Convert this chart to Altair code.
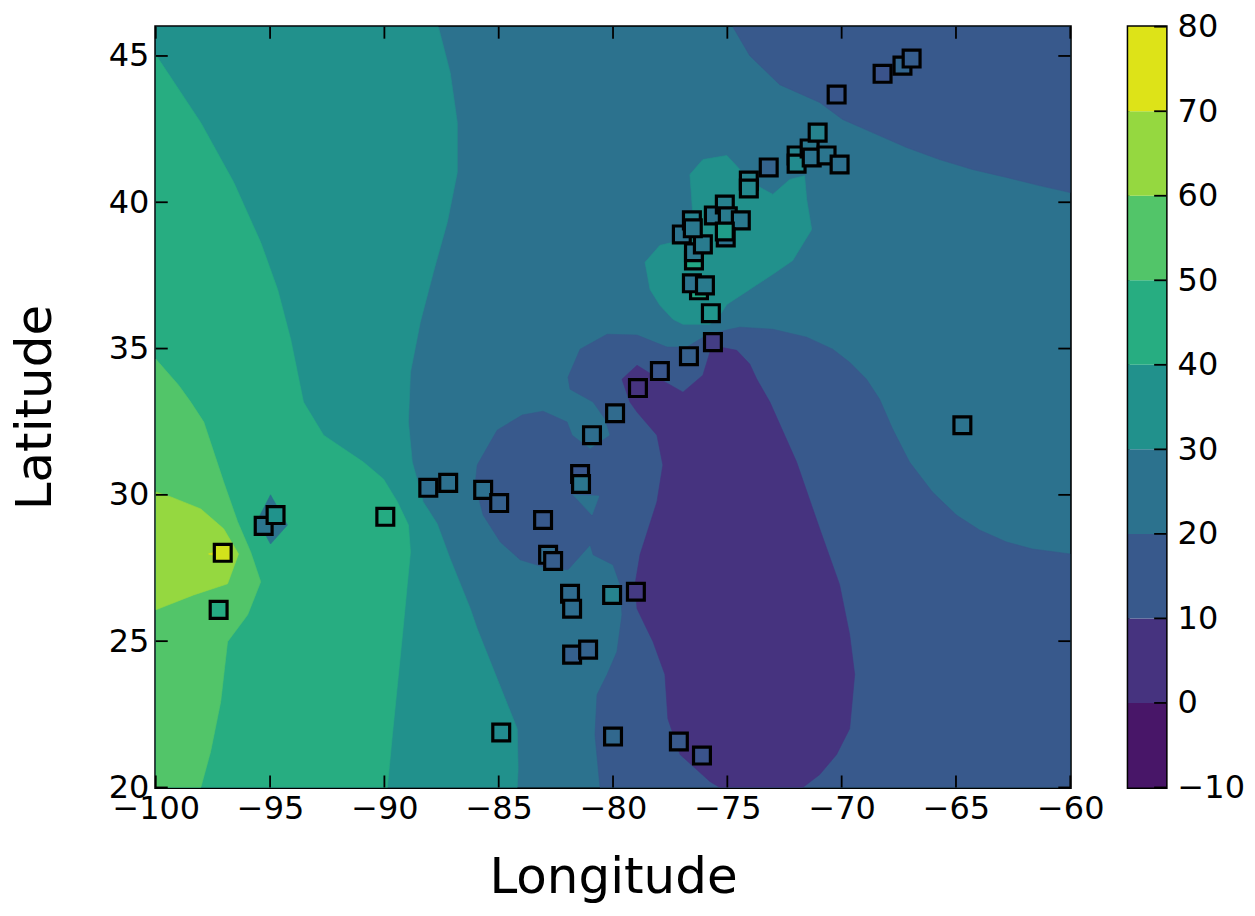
import altair as alt
import pandas as pd

# ---------------- data ----------------
LEVELS = [-10, 0, 10, 20, 30, 40, 50, 60, 70, 80]
BAND_COLORS = ["#481668", "#46337f", "#38598c", "#2c728e", "#21918c",
               "#27ad81", "#52c569", "#95d840", "#dde318"]

X_TICKS = [-100, -95, -90, -85, -80, -75, -70, -65, -60]
Y_TICKS = [20, 25, 30, 35, 40, 45]

# background band (20-30) covers the whole map
bg_lon = [-100, -60, -60, -100]
bg_lat = [20, 20, 46, 46]

# 30-40 band, west
a_lon = [-100, -87.64, -87.12, -86.81, -86.81, -87.25, -87.86, -88.43, -88.86, -88.95, -88.78,
         -88.30, -87.69, -87.12, -86.24, -85.94, -85.07, -84.19, -84.15, -84.19, -100]
a_lat = [46, 46, 44.43, 42.72, 41.02, 39.31, 37.60, 35.90, 34.19, 32.49, 31.12,
         29.76, 29.01, 27.81, 26.11, 25.42, 23.72, 22.01, 20.65, 20, 20]

# 40-50 band
b_lon = [-100, -98.03, -96.59, -95.41, -94.67, -94.10, -93.54, -92.66, -90.92, -90.04, -89.43,
         -88.95, -88.86, -89.00, -89.21, -89.43, -89.65, -89.87, -100]
b_lat = [45.04, 42.72, 40.68, 38.63, 37.02, 35.32, 33.17, 32.04, 31.12, 30.54, 29.76,
         28.97, 28.05, 26.93, 25.22, 23.51, 21.81, 20, 20]

# 50-60 band
c_lon = [-100, -99.0, -98.47, -97.90, -97.03, -96.42, -95.85, -95.41, -95.98, -96.86, -97.16,
         -97.60, -98.03, -100]
c_lat = [34.64, 33.75, 33.17, 32.49, 30.44, 29.08, 28.05, 27.03, 25.90, 24.98, 22.93,
         21.23, 20, 20]

# 60-70 band
d_lon = [-100, -99.34, -98.03, -97.03, -96.38, -96.86, -98.34, -100]
d_lat = [30.10, 29.93, 29.52, 28.84, 27.98, 26.96, 26.58, 26.07]

# 70-80 sliver
e_lon = [-97.69, -97.07, -97.07]
e_lat = [27.98, 28.12, 27.85]

# 20-30 diamond near -95
f_lon = [-94.98, -94.24, -94.98, -95.55]
f_lat = [30.0, 28.97, 28.32, 29.14]

# 10-20 band, north-east corner
g_lon = [-74.76, -74.02, -72.71, -70.96, -69.96, -68.65, -67.16, -65.72, -64.28, -62.79,
         -61.35, -60, -60]
g_lat = [46, 45.01, 44.02, 43.41, 42.83, 42.38, 41.87, 41.46, 41.12, 40.85,
         40.57, 40.33, 46]

# 10-20 band, south-east
h_lon = [-85.94, -85.07, -83.97, -83.06, -82.01, -81.79, -81.00, -80.13, -80.35, -80.87,
         -81.88, -81.97, -81.44, -80.26, -78.95, -77.64, -76.77, -75.90, -74.89, -74.45,
         -73.01, -71.53, -70.39, -69.65, -68.91, -68.34, -67.77, -67.03, -66.03, -64.98,
         -63.97, -62.79, -61.66, -60, -60, -80.57, -80.79, -80.70, -80.26, -79.83,
         -79.61, -79.69, -80.0, -80.87, -81.00, -81.97, -83.06, -84.06, -84.93, -85.68,
         -86.03]
h_lat = [31.02, 32.21, 32.73, 32.86, 32.49, 32.04, 31.57, 32.04, 32.59, 33.17,
         33.61, 34.02, 34.98, 35.49, 35.46, 35.05, 35.05, 35.46, 35.66, 35.73,
         35.66, 35.39, 34.98, 34.53, 33.95, 33.27, 32.25, 31.12, 30.10, 29.31,
         28.80, 28.39, 28.15, 27.98, 20, 20, 21.81, 23.17, 23.86, 24.64,
         25.90, 26.93, 27.61, 27.95, 28.29, 27.44, 27.54, 27.78, 28.39, 29.31,
         30.34]

# 20-30 notch inside the south-east band
i_lon = [-81.75, -80.61, -80.92]
i_lat = [30.0, 29.96, 29.31]

# 0-10 band
j_lon = [-79.61, -78.95, -78.25, -76.94, -76.07, -75.76, -75.33, -74.59, -74.02, -73.71,
         -73.14, -71.97, -70.96, -70.09, -69.65, -69.43, -69.65, -70.22, -70.96, -71.70,
         -75.33, -75.76, -77.07, -77.60, -77.73, -78.25, -78.95, -79.04, -78.82, -78.08,
         -77.82, -78.08, -78.95, -79.26]
j_lat = [33.95, 34.43, 34.09, 33.51, 34.09, 34.88, 35.05, 34.94, 34.47, 33.95,
         33.17, 31.12, 28.84, 26.93, 25.22, 23.86, 22.01, 21.13, 20.44, 20,
         20, 20.20, 21.13, 22.35, 23.86, 24.98, 26.11, 26.93, 27.95, 29.76,
         31.02, 32.04, 32.83, 33.17]

# 30-40 band around the north-east cluster
k_lon = [-76.59, -76.64, -76.07, -75.02, -74.45, -74.02, -73.71, -73.01, -72.27, -71.62,
         -71.53, -71.31, -72.14, -73.01, -74.02, -75.02, -75.33, -75.76, -76.94, -77.38,
         -77.95, -78.38, -78.60, -77.95, -77.38, -76.77, -76.51]
k_lat = [40.44, 40.95, 41.46, 41.60, 41.12, 40.78, 40.57, 40.27, 40.78, 40.91,
         40.10, 39.07, 38.01, 37.54, 37.02, 36.51, 36.14, 35.83, 35.83, 36.0,
         36.48, 37.02, 37.95, 38.53, 38.63, 38.87, 39.55]

# stations (square markers)
stn_lon = [-97.07, -97.25, -95.28, -94.76, -89.96, -88.08, -87.21, -85.68, -84.98, -83.06,
           -82.84, -82.62, -81.44, -81.40, -80.92, -79.91, -81.88, -81.79, -80.04, -79.00,
           -81.79, -81.09, -84.89, -80.00, -77.12, -76.11, -78.91, -77.95, -76.68, -75.63,
           -75.72, -76.24, -76.55, -75.98, -76.46, -76.46, -76.07, -76.99, -76.55, -76.51,
           -75.59, -75.11, -74.98, -74.41, -75.07, -75.11, -74.06, -74.06, -73.19, -71.97,
           -71.97, -71.40, -71.31, -70.66, -71.05, -70.09, -70.22, -68.21, -67.34, -66.94,
           -64.72]
stn_lat = [28.02, 26.07, 28.94, 29.31, 29.25, 30.24, 30.41, 30.17, 29.72, 29.14,
           27.95, 27.74, 30.71, 30.37, 32.04, 32.79, 26.62, 26.11, 26.58, 26.69,
           24.54, 24.71, 21.88, 21.74, 21.57, 21.09, 33.65, 34.23, 34.74, 35.22,
           36.21, 36.99, 37.23, 37.16, 38.01, 38.29, 38.56, 38.90, 39.38, 39.11,
           39.55, 39.92, 39.52, 39.38, 38.80, 39.00, 40.74, 40.47, 41.19, 41.60,
           41.32, 41.84, 41.53, 41.60, 42.38, 41.29, 43.68, 44.39, 44.67, 44.91,
           32.38]
stn_val = [74, 45, 25, 36, 45, 22, 23, 23, 17, 15,
           21, 16, 14, 25, 22, 21, 21, 22, 30, 5,
           17, 18, 33, 20, 15, 13, 3, 14, 17, 6,
           37, 44, 24, 27, 44, 26, 27, 24, 30, 26,
           25, 29, 27, 26, 24, 40, 30, 32, 18, 30,
           33, 26, 24, 25, 30, 23, 14, 13, 19, 16,
           24]

# ---------------- chart ----------------
FONT = "DejaVu Sans"
W, H = 916, 762
CB_W = 38
TICK = 12

xscale = alt.Scale(domain=[-100, -60], nice=False, zero=False)
yscale = alt.Scale(domain=[20, 46], nice=False, zero=False)
xaxis = alt.Axis(title="Longitude", values=X_TICKS, format="d", labelFlush=False,
                 labelOverlap=False, labelPadding=6, titlePadding=28)
yaxis = alt.Axis(title="Latitude", values=Y_TICKS, format="d", labelOverlap=False,
                 labelPadding=7, titlePadding=48)


def X(field):
    return alt.X(field, type="quantitative", scale=xscale, axis=xaxis)


def Y(field):
    return alt.Y(field, type="quantitative", scale=yscale, axis=yaxis)


def poly(lon, lat, color):
    df = pd.DataFrame({"lon": lon, "lat": lat, "i": list(range(len(lon)))})
    return alt.Chart(df).mark_line(
        interpolate="linear-closed", fill=color, stroke=color, strokeWidth=0.6, clip=True
    ).encode(x=X("lon"), y=Y("lat"), order=alt.Order("i:Q"))


layers = [
    poly(bg_lon, bg_lat, BAND_COLORS[3]),
    poly(a_lon, a_lat, BAND_COLORS[4]),
    poly(b_lon, b_lat, BAND_COLORS[5]),
    poly(c_lon, c_lat, BAND_COLORS[6]),
    poly(d_lon, d_lat, BAND_COLORS[7]),
    poly(e_lon, e_lat, BAND_COLORS[8]),
    poly(f_lon, f_lat, BAND_COLORS[3]),
    poly(g_lon, g_lat, BAND_COLORS[2]),
    poly(h_lon, h_lat, BAND_COLORS[2]),
    poly(i_lon, i_lat, BAND_COLORS[3]),
    poly(j_lon, j_lat, BAND_COLORS[1]),
    poly(k_lon, k_lat, BAND_COLORS[4]),
]

xt = pd.DataFrame({"t": X_TICKS})
yt = pd.DataFrame({"t": Y_TICKS})
rule_style = dict(color="black", strokeWidth=1.8)
ticks = [
    alt.Chart(yt).mark_rule(**rule_style).encode(y=Y("t"), x=alt.value(0), x2=alt.value(TICK)),
    alt.Chart(yt).mark_rule(**rule_style).encode(y=Y("t"), x=alt.value(W - TICK), x2=alt.value(W)),
    alt.Chart(xt).mark_rule(**rule_style).encode(x=X("t"), y=alt.value(H - TICK), y2=alt.value(H)),
    alt.Chart(xt).mark_rule(**rule_style).encode(x=X("t"), y=alt.value(0), y2=alt.value(TICK)),
]

stations = pd.DataFrame({"lon": stn_lon, "lat": stn_lat, "val": stn_val})
points = alt.Chart(stations).mark_square(
    size=285, stroke="black", strokeWidth=3.2, opacity=1, filled=True
).encode(
    x=X("lon"), y=Y("lat"),
    fill=alt.Fill("val:Q", scale=alt.Scale(scheme="viridis", domain=[-10, 80]), legend=None),
)

main = alt.layer(*layers, *ticks, points).properties(width=W, height=H)

# colour bar
cb = pd.DataFrame({"lo": LEVELS[:-1], "hi": LEVELS[1:], "band": [str(v) for v in LEVELS[:-1]]})
cbscale = alt.Scale(domain=[-10, 80], nice=False, zero=False)
cbaxis = alt.Axis(orient="right", values=LEVELS, format="d", labelOverlap=False,
                  labelPadding=11, title=None)
cb_rect = alt.Chart(cb).mark_rect().encode(
    y=alt.Y("lo:Q", scale=cbscale, axis=cbaxis),
    y2="hi:Q",
    x=alt.value(0), x2=alt.value(CB_W),
    fill=alt.Fill("band:N", scale=alt.Scale(domain=[str(v) for v in LEVELS[:-1]], range=BAND_COLORS),
                  legend=None),
)
cbt = pd.DataFrame({"t": LEVELS})
cb_ticks = alt.Chart(cbt).mark_rule(**rule_style).encode(
    y=alt.Y("t:Q", scale=cbscale, axis=cbaxis), x=alt.value(CB_W - TICK), x2=alt.value(CB_W)
)
colorbar = alt.layer(cb_rect, cb_ticks).properties(width=CB_W, height=H)

chart = alt.hconcat(main, colorbar, spacing=20).properties(
    padding={"top": 0, "left": 0, "right": 0, "bottom": 0},
    background="white",
).configure_view(
    stroke="black", strokeWidth=3
).configure_axis(
    labelFont=FONT, labelFontSize=32, labelColor="black",
    titleFont=FONT, titleFontSize=50, titleFontWeight="normal", titleColor="black",
    grid=False, domain=False, ticks=False,
)

chart.save("out.html", embed_options={"renderer": "svg", "actions": False})
